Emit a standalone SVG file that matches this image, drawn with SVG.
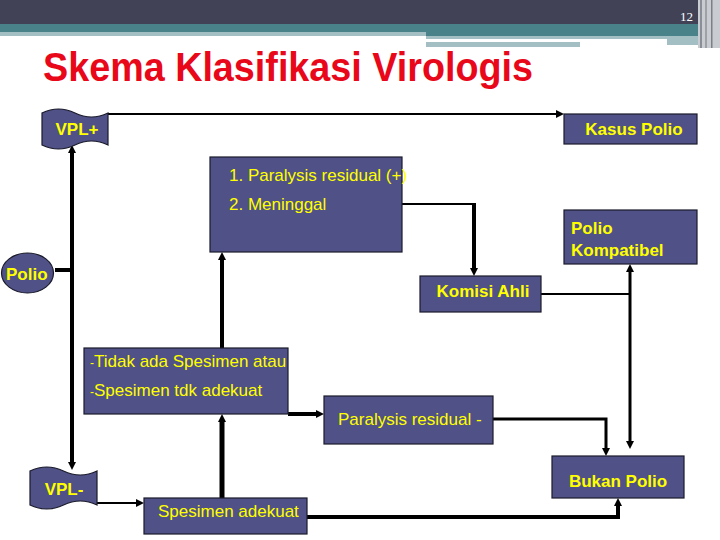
<svg xmlns="http://www.w3.org/2000/svg" width="720" height="540" viewBox="0 0 720 540">
<style>
.box{fill:#505287;stroke:#1a1a2a;stroke-width:1.2}
.t{font-family:"Liberation Sans",Arial,sans-serif;fill:#ffff00;font-size:17px}
.b{font-weight:bold}
.c{fill:none;stroke:#000}
.thin{stroke-width:2}
.mid{stroke-width:3}
.thick{stroke-width:4}
</style>
<defs>
<marker id="ah" markerUnits="userSpaceOnUse" markerWidth="10" markerHeight="10" refX="1" refY="4" orient="auto-start-reverse">
<path d="M0,0 L8,4 L0,8 Z" fill="#000"/>
</marker>
</defs>
<rect width="720" height="540" fill="#fff"/>
<g id="header">
<rect x="0" y="0" width="720" height="24" fill="#414256"/>
<rect x="0" y="24" width="698" height="8" fill="#4a8289"/>
<rect x="0" y="32" width="426" height="4" fill="#a3bfc3"/>
<rect x="426" y="32" width="272" height="4" fill="#4a8289"/>
<rect x="426" y="36" width="241" height="3" fill="#a3bfc3"/>
<rect x="426" y="39" width="241" height="3" fill="#ffffff"/>
<rect x="426" y="42" width="154" height="5" fill="#a3bfc3"/>
<rect x="667" y="36" width="31" height="9" fill="#a3bfc3"/>
<rect x="698" y="0" width="22" height="48" fill="#c9ccd0"/>
<rect x="700" y="0" width="2" height="48" fill="#8a8e96"/>
<rect x="705" y="0" width="2" height="48" fill="#9ea2a8"/>
<rect x="711" y="0" width="1.5" height="48" fill="#7c8088"/>
<text x="680" y="21" font-family="Liberation Serif,serif" font-size="13" fill="#ffffff">12</text>
</g>
<text id="title" x="43" y="81" font-family="Liberation Sans,Arial,sans-serif" font-size="40" font-weight="bold" fill="#e8081a" textLength="490" lengthAdjust="spacingAndGlyphs">Skema Klasifikasi Virologis</text>
<g id="connectors">
<path class="c thin" d="M108,114 H557" marker-end="url(#ah)"/>
<path class="c thick" d="M72,152 V463" marker-start="url(#ah)" marker-end="url(#ah)"/>
<path class="c thick" d="M55,270 H72"/>
<path class="c thin" d="M402,204 H474"/>
<path class="c thick" d="M474,203 V269" marker-end="url(#ah)"/>
<path class="c thin" d="M541,294 H630"/>
<path class="c mid" d="M630,271 V442" marker-start="url(#ah)" marker-end="url(#ah)"/>
<path class="c thick" d="M222,348 V259" marker-end="url(#ah)"/>
<path class="c" stroke-width="5" d="M222,498 V421" marker-end="url(#ah)"/>
<path class="c thick" d="M288,414 H317" marker-end="url(#ah)"/>
<path class="c thin" d="M97,503 H137" marker-end="url(#ah)"/>
<path class="c thick" d="M307,517 H618 V505" marker-end="url(#ah)"/>
<path class="c mid" d="M493,419 H606 V449" marker-end="url(#ah)"/>
</g>
<g id="vpl-plus">
<path class="box" d="M42,113 Q58.5,105 75,113 Q91.5,121 108,113 L108,145 Q91.5,137 75,145 Q58.5,153 42,145 Z"/>
<text class="t b" x="77" y="135" text-anchor="middle">VPL+</text>
</g>
<g id="kasus-polio">
<rect class="box" x="564" y="114" width="133" height="30"/>
<text class="t b" x="634" y="135" text-anchor="middle">Kasus Polio</text>
</g>
<g id="paralysis-plus">
<rect class="box" x="210" y="157" width="192" height="95"/>
<text class="t" x="229" y="181">1. Paralysis residual (+)</text>
<text class="t" x="229" y="210">2. Meninggal</text>
</g>
<g id="polio">
<ellipse class="box" cx="27.5" cy="273" rx="26" ry="20"/>
<text class="t b" x="6" y="280" font-size="19">Polio</text>
</g>
<g id="polio-kompatibel">
<rect class="box" x="564" y="210" width="133" height="54"/>
<text class="t b" x="571" y="234">Polio</text>
<text class="t b" x="571" y="256">Kompatibel</text>
</g>
<g id="komisi-ahli">
<rect class="box" x="420" y="276" width="121" height="36"/>
<text class="t b" x="483" y="297" text-anchor="middle">Komisi Ahli</text>
</g>
<g id="tidak-spesimen">
<rect class="box" x="84" y="348" width="204" height="66"/>
<text class="t" x="90" y="367"><tspan font-size="12">-</tspan>Tidak ada Spesimen atau</text>
<text class="t" x="90" y="396"><tspan font-size="12">-</tspan>Spesimen tdk adekuat</text>
</g>
<g id="paralysis-minus">
<rect class="box" x="324" y="396" width="169" height="48"/>
<text class="t" x="338" y="425">Paralysis residual -</text>
</g>
<g id="vpl-minus">
<path class="box" d="M30,471 Q46.75,463 63.5,471 Q80.25,479 97,471 L97,505 Q80.25,497 63.5,505 Q46.75,513 30,505 Z"/>
<text class="t b" x="64" y="495" text-anchor="middle">VPL-</text>
</g>
<g id="spesimen-adekuat">
<rect class="box" x="144" y="498" width="163" height="36"/>
<text class="t" x="158" y="517">Spesimen adekuat</text>
</g>
<g id="bukan-polio">
<rect class="box" x="552" y="456" width="132" height="42"/>
<text class="t b" x="618" y="487" text-anchor="middle">Bukan Polio</text>
</g>
</svg>
